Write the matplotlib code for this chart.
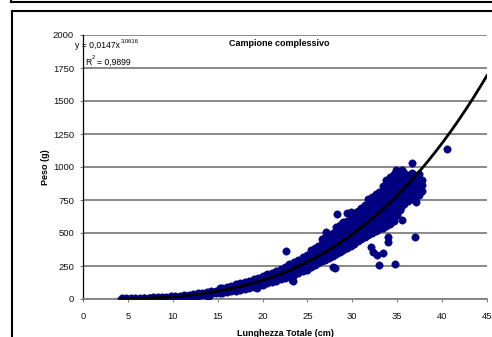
import numpy as np
import matplotlib
matplotlib.use("Agg")
import matplotlib.pyplot as plt
from matplotlib.lines import Line2D

plt.rcParams["font.family"] = ["Liberation Sans", "DejaVu Sans"]
NARROW = ["Liberation Sans Narrow", "Liberation Sans", "DejaVu Sans"]

W, H = 492, 337

# lengths (cm) and the weights (g) measured at each length
lunghezze = [4.3, 4.8, 5.3, 5.8, 6.3, 6.8, 7.3, 7.8, 8.3, 8.8, 9.3, 9.8,
             10.3, 10.8, 11.3, 11.8, 12.3, 12.8, 13.3, 13.8, 14.3, 14.8,
             15.3, 15.5, 16.0, 16.5, 17.0, 17.5, 18.0, 18.5, 19.0, 19.5,
             20.0, 20.5, 21.0, 21.5, 22.0, 22.5, 23.0, 23.5, 24.0, 24.5,
             25.0, 25.4, 25.8, 26.2, 26.6, 27.0, 27.4, 27.8, 28.2, 28.6,
             29.0, 29.4, 29.8, 30.2, 30.6, 31.0, 31.4, 31.8, 32.2, 32.6,
             33.0, 33.4, 33.8, 34.2, 34.6, 35.0, 35.4, 35.8, 36.2, 36.6,
             37.0, 37.4, 37.8]
pesi = [
    [1, 5], [2, 5], [2, 6], [3, 7], [3, 8], [4, 9], [5, 10], [6, 12],
    [7, 13], [9, 15], [10, 17], [12, 20], [13, 23], [15, 26], [18, 30],
    [20, 33], [23, 37], [26, 42], [30, 47], [34, 52], [38, 58], [42, 64],
    [45, 62, 80], [48, 66, 84], [52, 72, 92], [58, 79, 100],
    [64, 86, 110], [70, 94, 118], [78, 102, 128], [85, 112, 138],
    [92, 121, 150], [100, 130, 162], [108, 141, 175], [118, 152, 188],
    [128, 164, 200], [138, 176, 214], [148, 189, 230], [160, 203, 246],
    [172, 217, 262], [184, 232, 280], [196, 247, 298], [210, 263, 316],
    [222, 280, 335],
    [245, 290, 335, 375],
    [258, 302, 346, 390],
    [270, 315, 360, 405],
    [285, 330, 375, 420, 455],
    [298, 342, 386, 430, 470],
    [310, 355, 400, 445, 485],
    [325, 368, 412, 456, 500],
    [340, 382, 425, 468, 512, 545],
    [355, 396, 438, 480, 522, 560],
    [375, 415, 455, 495, 535, 575],
    [390, 430, 470, 510, 550, 590],
    [405, 445, 485, 525, 565, 605],
    [420, 460, 500, 540, 580, 620, 650],
    [440, 480, 520, 560, 600, 640, 670],
    [455, 495, 535, 575, 615, 655, 690],
    [470, 510, 550, 590, 630, 670, 710],
    [485, 525, 565, 605, 645, 685, 725, 755],
    [500, 540, 580, 620, 660, 700, 740, 775],
    [515, 555, 595, 635, 675, 715, 755, 795],
    [530, 570, 610, 650, 690, 730, 770, 810],
    [540, 580, 620, 660, 700, 740, 780, 820, 855],
    [555, 595, 635, 675, 715, 755, 795, 835, 875, 900],
    [570, 610, 650, 690, 730, 770, 810, 850, 890, 925],
    [590, 630, 670, 710, 750, 790, 830, 870, 910, 945],
    [640, 680, 720, 760, 800, 840, 880, 920, 955],
    [700, 740, 780, 820, 860, 900, 940],
    [720, 760, 800, 840, 880, 920, 955],
    [740, 780, 820, 860, 900, 940],
    [760, 800, 840, 880, 920, 955],
    [775, 815, 855, 895, 935],
    [790, 830, 870, 910, 945],
    [820, 860, 900],
]

# isolated fish away from the main cloud
extra_lung = [40.6, 36.7, 34.9, 35.5, 37.1, 35.3, 35.5, 37.0, 34.0, 34.0,
              32.1, 32.3, 32.7, 33.4, 33.0, 34.8, 28.3, 29.4, 29.9, 29.0,
              27.9, 28.1, 22.6, 23.3, 27.1, 13.9, 19.4, 23.4]
extra_peso = [1140, 1028, 977, 977, 737, 674, 598, 472, 472, 434,
              397, 358, 333, 351, 258, 265, 644, 649, 661, 586,
              245, 233, 367, 144, 510, 15, 83, 135]

# power fit y = a * x^b
A_FIT = 0.0147
B_FIT = 3.0616

x_pts = np.concatenate([np.repeat(lunghezze, [len(p) for p in pesi]),
                        extra_lung])
y_pts = np.concatenate([np.concatenate(pesi), extra_peso])

fig = plt.figure(figsize=(W / 100, H / 100), dpi=100)


def fpos(px, py):
    return px / W, 1 - py / H


ax = fig.add_axes([83 / W, 1 - 299 / H, 404 / W, 264 / H])
ax.scatter(x_pts, y_pts, s=28, color="#000080", edgecolors="#000080",
           linewidths=0.4, zorder=3)

xf = np.linspace(4.0, 45.0, 300)
ax.plot(xf, A_FIT * xf ** B_FIT, color="black", lw=2.0, zorder=4)

ax.set_xlim(0, 45)
ax.set_ylim(0, 2000)
ax.set_xticks(range(0, 46, 5))
ax.set_yticks(range(0, 2001, 250))
ax.yaxis.grid(True, color="#808080", lw=1.3)
ax.set_axisbelow(True)
for s in ("top", "right"):
    ax.spines[s].set_visible(False)
ax.spines["left"].set_color("black")
ax.spines["left"].set_linewidth(0.9)
ax.spines["bottom"].set_color("#808080")
ax.spines["bottom"].set_linewidth(1.3)
ax.tick_params(axis="x", length=2.5, color="#808080", labelsize=6.8,
               pad=7, labelcolor="#111111")
ax.tick_params(axis="y", length=2.5, color="#808080", labelsize=6.8,
               pad=4, labelcolor="#111111")

fig.text(*fpos(285, 333), "Lunghezza Totale (cm)", ha="center",
         va="center", fontsize=6.5, fontweight="bold")
fig.text(*fpos(45, 167), "Peso (g)", ha="center", va="center",
         rotation=90, fontsize=6.5, fontweight="bold")
fig.text(*fpos(279, 43), "Campione complessivo", ha="center",
         va="center", fontsize=6.5, fontweight="bold")

# regression equation, superscripts placed after the base text
eq = fig.text(*fpos(75, 48), "y = 0,0147x", ha="left", va="baseline",
              fontsize=6.2, family=NARROW)
ax.annotate("3,0616", xy=(1, 0.75), xycoords=eq, xytext=(0.4, 0),
            textcoords="offset points", va="bottom", ha="left",
            fontsize=4.2, family=NARROW, annotation_clip=False)
r2 = fig.text(*fpos(85, 65), "R", ha="left", va="baseline", fontsize=6.2,
              family=NARROW)
ax.annotate("2", xy=(1, 0.75), xycoords=r2, xytext=(0.3, 0),
            textcoords="offset points", va="bottom", ha="left",
            fontsize=4.2, family=NARROW, annotation_clip=False)
ax.annotate("= 0,9899", xy=(1, 0), xycoords=r2, xytext=(4.2, 0),
            textcoords="offset points", va="bottom", ha="left",
            fontsize=6.2, family=NARROW, annotation_clip=False)

# surrounding frames
lw = 1.5
fig.add_artist(Line2D([11 / W, 1], [1 - 2 / H] * 2, color="black", lw=lw,
                      transform=fig.transFigure))
fig.add_artist(Line2D([11 / W] * 2, [1, 1 - 2 / H], color="black", lw=lw,
                      transform=fig.transFigure))
fig.add_artist(Line2D([12 / W, 1], [1 - 11 / H] * 2, color="black", lw=lw,
                      transform=fig.transFigure))
fig.add_artist(Line2D([12 / W] * 2, [1 - 11 / H, 0], color="black", lw=lw,
                      transform=fig.transFigure))

fig.savefig("out.png", dpi=100)
